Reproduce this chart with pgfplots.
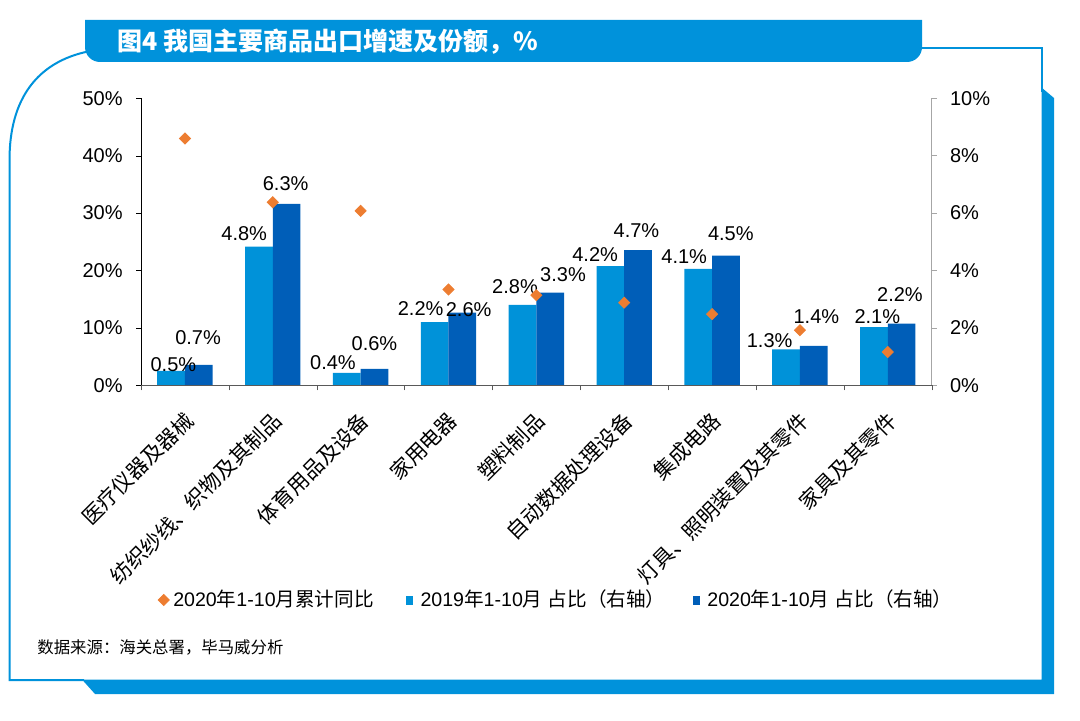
\documentclass[border=0pt]{standalone}
\usepackage{fontspec}
\setmainfont{Liberation Sans}
\newfontfamily\cjk{Noto Sans CJK SC}
\usepackage{pgfplots}
\usepackage{pgfplotstable}
\pgfplotsset{compat=1.18}
\definecolor{cA}{RGB}{0,146,217}
\definecolor{cB}{RGB}{0,94,184}
\definecolor{cO}{RGB}{237,125,49}
\definecolor{frm}{RGB}{0,146,219}
\definecolor{axg}{RGB}{166,166,166}

% 2019 share (right axis): x, value, label, label offset dx/dy (px)
\pgfplotstableread{
x y lab dx dy
0 0.50 0.5 2.3 6.7
1 4.83 4.8 -14.7 12.7
2 0.43 0.4 -13.8 10.3
3 2.20 2.2 -14 13.1
4 2.80 2.8 -7.5 18.3
5 4.15 4.2 -15.2 11.7
6 4.06 4.1 -14 12.3
7 1.25 1.3 -16.4 9.3
8 2.03 2.1 3.4 10.3
}\tA
% 2020 share (right axis)
\pgfplotstableread{
x y lab dx dy
0 0.71 0.7 -0.7 27.5
1 6.32 6.3 -1 19.8
2 0.57 0.6 0 25
3 2.53 2.6 6.3 3.5
4 3.23 3.3 12.8 17.7
5 4.71 4.7 -1.6 19.7
6 4.52 4.5 4.9 22.3
7 1.37 1.4 2.6 29
8 2.15 2.2 -1.7 28.7
}\tB
% 2020 cumulative yoy growth (left axis)
\pgfplotstableread{
x y
0 43.0
1 31.9
2 30.4
3 16.7
4 15.7
5 14.4
6 12.4
7 9.6
8 5.8
}\tC

\begin{document}
\begin{tikzpicture}
\useasboundingbox (0,0) rectangle (540pt,-360.5pt);
\begin{scope}[x=0.5pt,y=-0.5pt]
  % banner
  \fill[frm] (85,20) -- (922,20) -- (922,47) .. controls (922,55.3) and (915.3,62) .. (907,62)
     -- (100,62) .. controls (91.7,62) and (85,55.3) .. (85,47) -- cycle;
  \node[anchor=west,text=white,inner sep=0pt] at (117,41.5)
     {\cjk\bfseries\fontsize{12.5pt}{14pt}\selectfont 图4 我国主要商品出口增速及份额，\%};
  % thin border lines
  \draw[frm,line width=1pt] (922,47.7) -- (1041.5,47.7) -- (1041.5,92);
  \draw[frm,line width=1pt] (88,51.5) .. controls (38,62) and (9.5,98) .. (9.5,160) -- (9.5,680) -- (84,680);
  % thick right/bottom bar
  \fill[frm] (1041.5,87.5) -- (1054,98) -- (1054,694) -- (95,694) -- (82,679.5) -- (1041.5,679.5) -- cycle;
  % source
  \node[anchor=west,inner sep=0pt] at (37,647)
     {\cjk\fontsize{8.2pt}{10pt}\selectfont 数据来源：海关总署，毕马威分析};
\end{scope}

% ---------- right axis: shares (bars) ----------
\begin{axis}[
  at={(70.5pt,-192.65pt)}, anchor=south west,
  scale only axis, width=395.35pt, height=143.5pt,
  xmin=-0.5, xmax=8.5, ymin=0, ymax=10,
  clip=false,
  axis x line=none, axis y line*=right,
  y axis line style={axg,-},
  ytick={0,2,...,10},
  yticklabel={\pgfmathprintnumber{\tick}\%},
  /pgf/number format/assume math mode=true,
  tick align=outside, major tick length=2.5pt,
  ytick style={axg},
  yticklabel style={font=\fontsize{10pt}{12pt}\selectfont, anchor=west, inner sep=0pt, xshift=6.5pt},
  ybar=0pt, bar width=13.85pt,
  nodes near coords={\pgfplotspointmeta\%},
  point meta=explicit symbolic,
  nodes near coords style={font=\fontsize{10pt}{12pt}\selectfont, text=black},
]
\addplot[fill=cA, draw=none,
  visualization depends on={\thisrow{dx} \as \ldx},
  visualization depends on={\thisrow{dy} \as \ldy},
  every node near coord/.append style={anchor=center, xshift={0.5pt*(\ldx)}, yshift={0.5pt*(\ldy)}}]
  table[x=x,y=y,meta=lab] {\tA};
\addplot[fill=cB, draw=none,
  visualization depends on={\thisrow{dx} \as \ldx},
  visualization depends on={\thisrow{dy} \as \ldy},
  every node near coord/.append style={anchor=center, xshift={0.5pt*(\ldx)}, yshift={0.5pt*(\ldy)}}]
  table[x=x,y=y,meta=lab] {\tB};
\end{axis}

% ---------- left axis: growth (diamonds) ----------
\begin{axis}[
  at={(70.5pt,-192.65pt)}, anchor=south west,
  scale only axis, width=395.35pt, height=143.5pt,
  xmin=-0.5, xmax=8.5, ymin=0, ymax=50,
  clip=false,
  axis x line*=bottom, axis y line*=left,
  x axis line style={black!65,-},
  y axis line style={black,-},
  ytick={0,10,...,50},
  yticklabel={\pgfmathprintnumber{\tick}\%},
  /pgf/number format/assume math mode=true,
  tick align=outside, major tick length=2.5pt,
  ytick style={black},
  xtick style={black!65},
  yticklabel style={font=\fontsize{10pt}{12pt}\selectfont, anchor=east, inner sep=0pt, xshift=-6.5pt},
  xtick={-0.5,0.5,...,8.5}, xticklabels={},
  xticklabel style={font=\cjk\fontsize{10.5pt}{12pt}\selectfont, xshift=-1.2pt, yshift=-12pt, rotate=45, anchor=north east, inner sep=0pt},
  extra x ticks={0,1,...,8},
  extra x tick labels={{医疗仪器及器械},{纺织纱线、织物及其制品},{体育用品及设备},{家用电器},{塑料制品},{自动数据处理设备},{集成电路},{灯具、照明装置及其零件},{家具及其零件}},
  extra x tick style={major tick length=0pt},
  legend style={draw=none, fill=none, at={(0.0137,-0.748)}, anchor=west,
     font=\fontsize{9.8pt}{12pt}\selectfont, legend columns=3,
     /tikz/column 2/.style={column sep=14pt},
     /tikz/column 4/.style={column sep=11.5pt}},
  legend cell align=left,
]
\addplot[only marks, mark=square*, mark size=1.95pt, color=cO, mark options={rotate=45}]
  table[x=x,y=y] {\tC};
\addlegendentry{2020{\cjk 年}1-10{\cjk 月累计同比}}
\addlegendimage{legend image code/.code={\fill[cA] (0.5pt,-2pt) rectangle (3.5pt,2pt); \path (5.5pt,0pt);}}
\addlegendentry{2019{\cjk 年}1-10{\cjk 月} {\cjk 占比（右轴）}}
\addlegendimage{legend image code/.code={\fill[cB] (0.5pt,-2pt) rectangle (3.5pt,2pt); \path (5.5pt,0pt);}}
\addlegendentry{2020{\cjk 年}1-10{\cjk 月} {\cjk 占比（右轴）}}
\end{axis}
\end{tikzpicture}
\end{document}
